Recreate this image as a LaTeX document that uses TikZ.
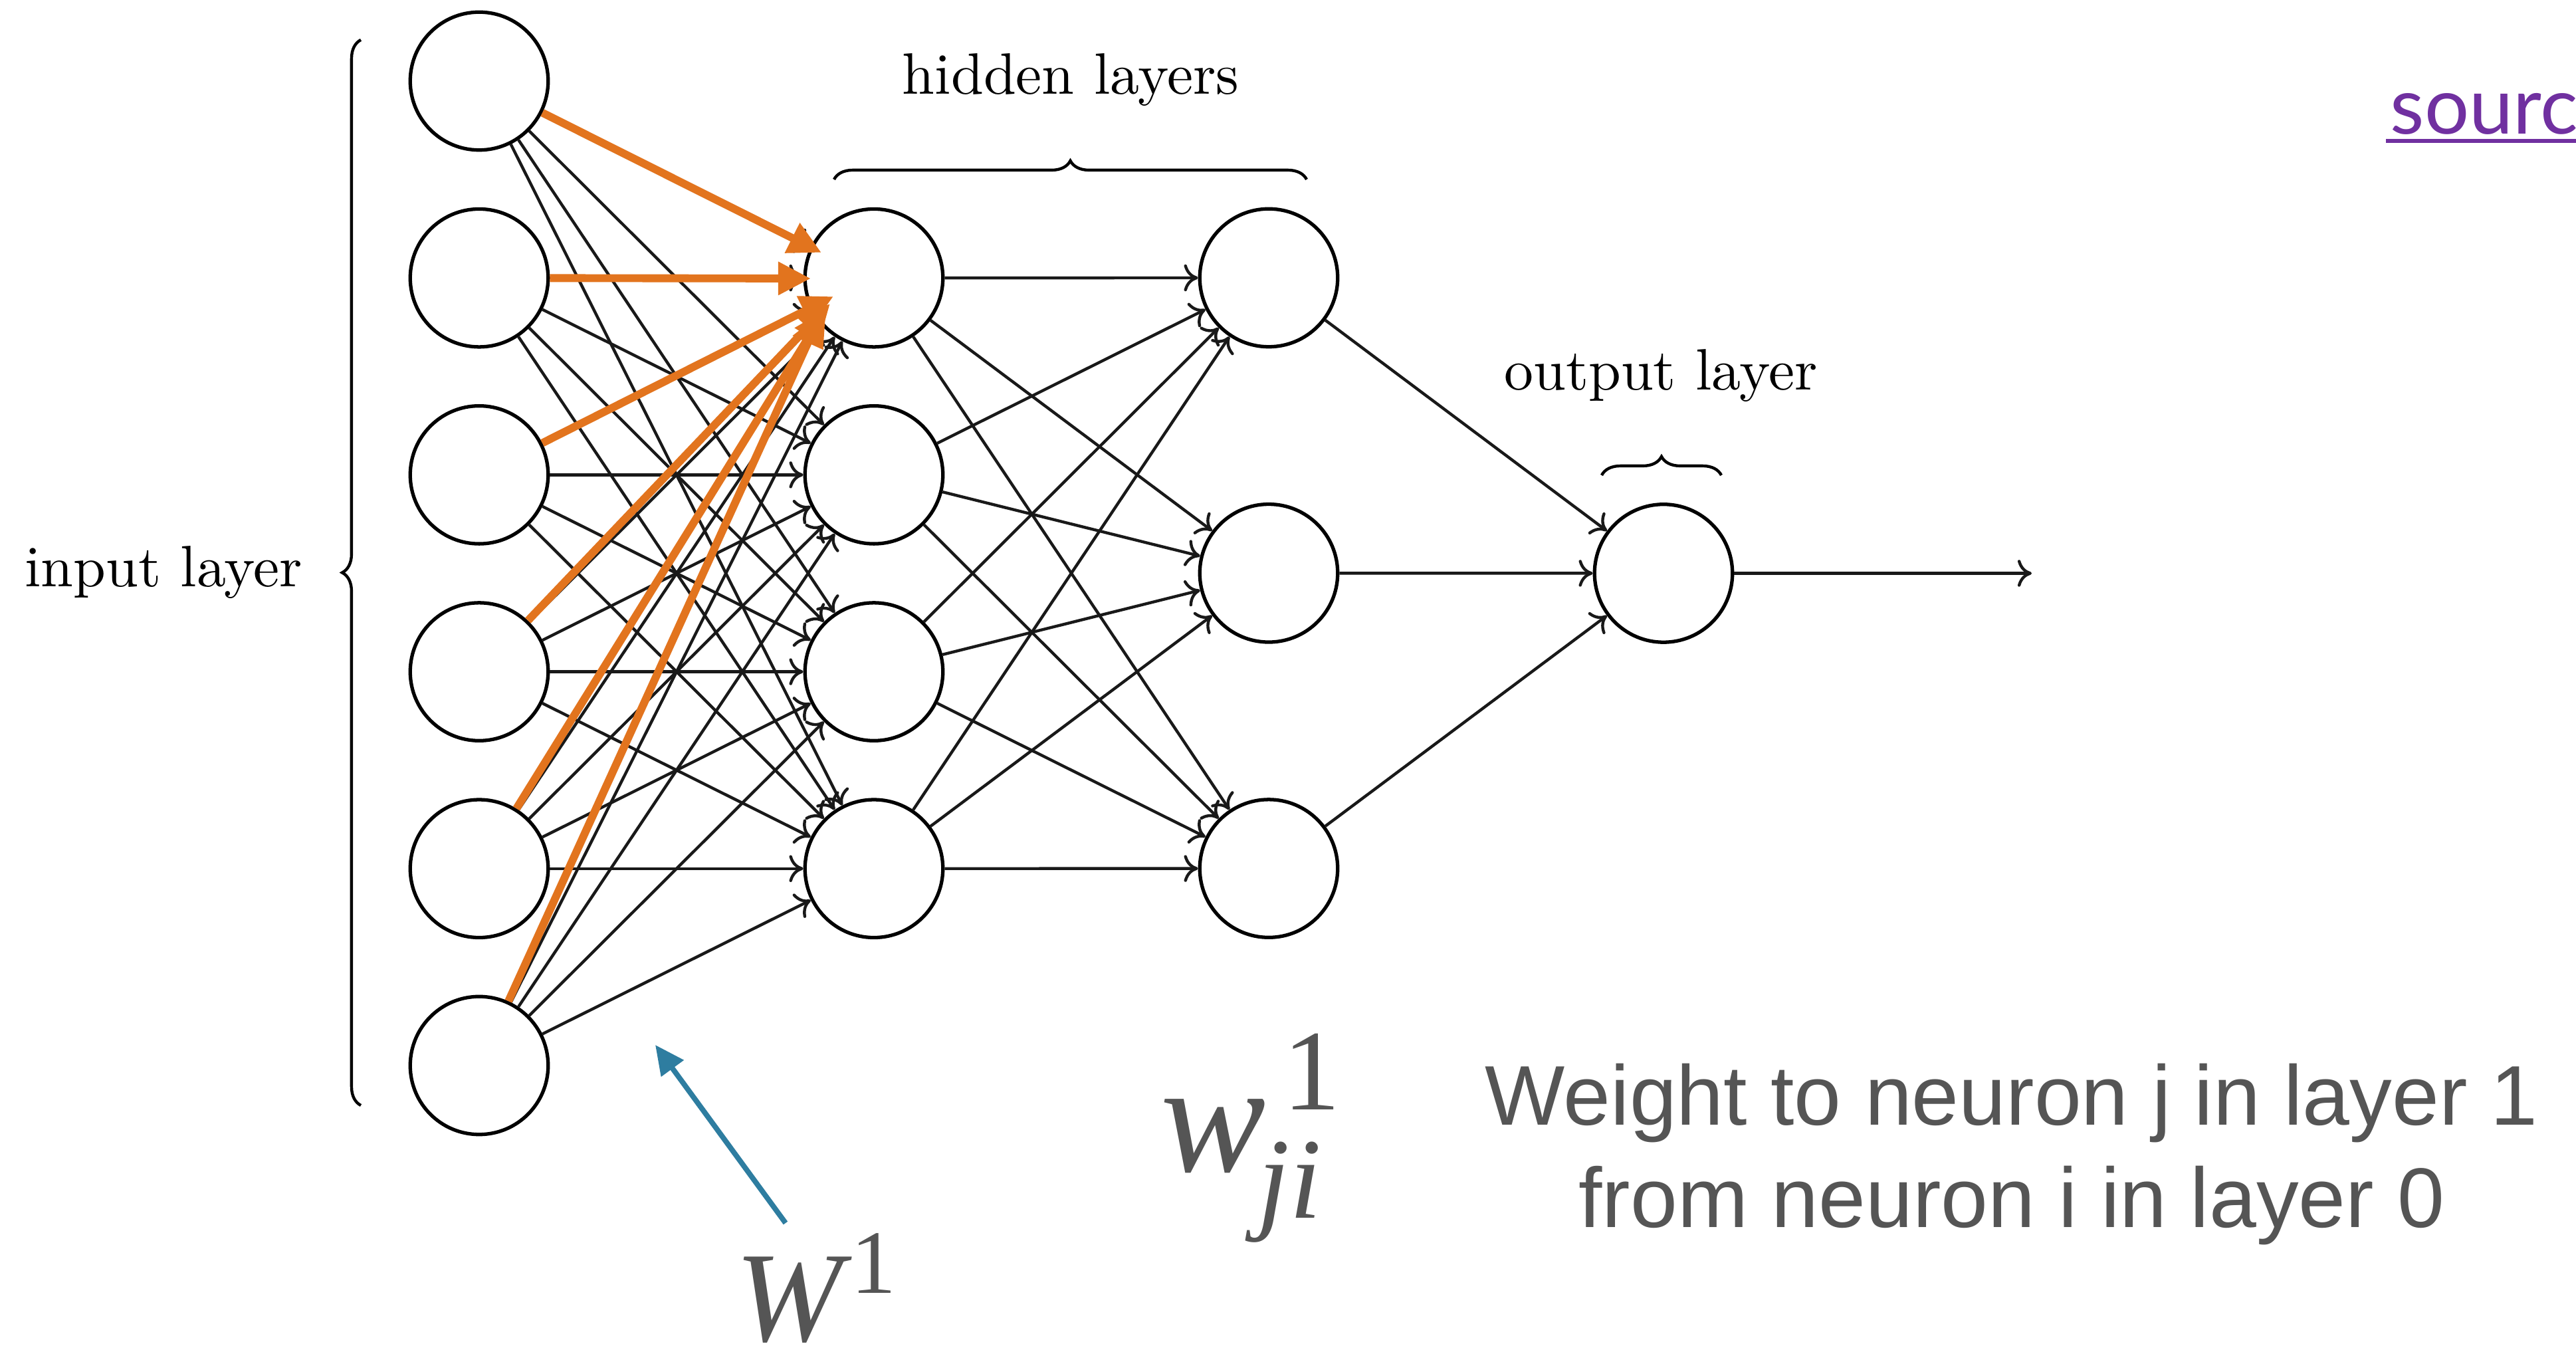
\documentclass[tikz,border=0pt]{standalone}
\usepackage{fontspec}
\usepackage{tikz}
\usetikzlibrary{arrows.meta, decorations.pathreplacing}
\newfontfamily\notefont{Liberation Sans}
\newfontfamily\symbfont{Liberation Serif}
\newfontfamily\linkfont{Lato}
\definecolor{wtorange}{RGB}{226,116,30}
\definecolor{wtblue}{RGB}{46,125,160}
\definecolor{notegray}{RGB}{85,85,85}
\definecolor{linkpurple}{RGB}{112,48,160}

\begin{document}
\begin{tikzpicture}[x=0.4cm, y=-0.4cm, link/.style={line width=0.5pt, black!90, -{To[length=2.4pt, width=4.6pt]}}, wtedge/.style={wtorange, line width=1.35pt, -{Triangle[length=5.6pt, width=5.4pt]}}, lbrace/.style={decorate, decoration={brace, amplitude=3.2pt}, line width=0.5pt}]
    \useasboundingbox (0,0) rectangle (38.76,20.37);
    \begin{scope}[every node/.style={circle, draw, line width=0.6pt, minimum size=0.83cm, inner sep=0}]
      \foreach \k in {1,...,6} {\node (i\k) at (7.21, {1.22+2.962*(\k-1)}) {};}
      \foreach \k in {1,...,4} {\node (h\k) at (13.15, {1.22+2.962*\k}) {};}
      \foreach \k in {1,2,3} {\node (g\k) at (19.09, {4.18+4.443*(\k-1)}) {};}
      \node (o) at (25.03, 8.625) {};
    \end{scope}
    \coordinate (out) at (30.57, 8.625);
    \foreach \a in {1,...,6} {\foreach \b in {1,...,4} {\draw [link] (i\a) -- (h\b);};}
    \foreach \a in {1,...,4} {\foreach \b in {1,2,3} {\draw [link] (h\a) -- (g\b);};}
    \foreach \a in {1,2,3} {\draw [link] (g\a) -- (o);}
    \draw [link] (o) -- (out);
    \foreach \a/\x/\y in {1/12.36/3.80, 2/12.20/4.19, 3/12.54/4.46, 4/12.49/4.57, 5/12.43/4.65, 6/12.36/4.71} {
      \coordinate (t\a) at (\x,\y);
      \draw [wtedge] (i\a) -- (t\a);
    }
    \draw [lbrace] (5.43,16.63) -- (5.43,0.60);
    \draw [lbrace] (12.55,2.70) -- (19.66,2.70);
    \draw [lbrace] (24.10,7.15) -- (25.90,7.15);
    \node [anchor=base east, inner sep=0] (inlbl) at (4.57,8.83) {input layer};
    \node [anchor=base, inner sep=0] (hidlbl) at (16.11,1.42) {hidden layers};
    \node [anchor=base, inner sep=0] (outlbl) at (24.99,5.87) {output layer};
    \node [anchor=base west, inner sep=0, text=notegray, font=\symbfont] (bigW) at (11.05,20.18) {{\itshape\fontsize{22pt}{22pt}\selectfont W}\kern0.05cm\raisebox{0.29cm}{\fontsize{15.5pt}{15.5pt}\selectfont 1}};
    \node [anchor=base west, inner sep=0, text=notegray, font=\symbfont] (smallw) at (17.45,17.63) {{\itshape\fontsize{27pt}{27pt}\selectfont w}\rlap{\kern0.1cm\raisebox{0.372cm}{\fontsize{19.7pt}{19.7pt}\selectfont 1}}\kern-0.05cm\raisebox{-0.28cm}{\itshape\fontsize{19.7pt}{19.7pt}\selectfont ji}};
    \coordinate (wfoot) at (11.82,18.40);
    \coordinate (wtip) at (9.86,15.72);
    \draw [wtblue, line width=0.9pt, -{Triangle[length=5pt, width=4.6pt]}] (wfoot) -- (wtip);
    \node [anchor=base, inner sep=0, text=notegray, font=\notefont\fontsize{14.5pt}{17.5pt}\selectfont] (note1) at (30.27,16.93) {Weight to neuron j in layer 1};
    \node [anchor=base, inner sep=0, text=notegray, font=\notefont\fontsize{14.5pt}{17.5pt}\selectfont] (note2) at (30.27,18.47) {from neuron i in layer 0};
    \node [anchor=base west, inner sep=0, text=linkpurple, font=\linkfont\fontsize{13.5pt}{13.5pt}\selectfont] (src) at (35.95,2.02) {sourc};
    \coordinate (srcend) at (38.76,2.12);
    \draw [linkpurple, line width=0.75pt] ([xshift=-0.02cm]src.base west |- srcend) -- (srcend);
\end{tikzpicture}
\end{document}
